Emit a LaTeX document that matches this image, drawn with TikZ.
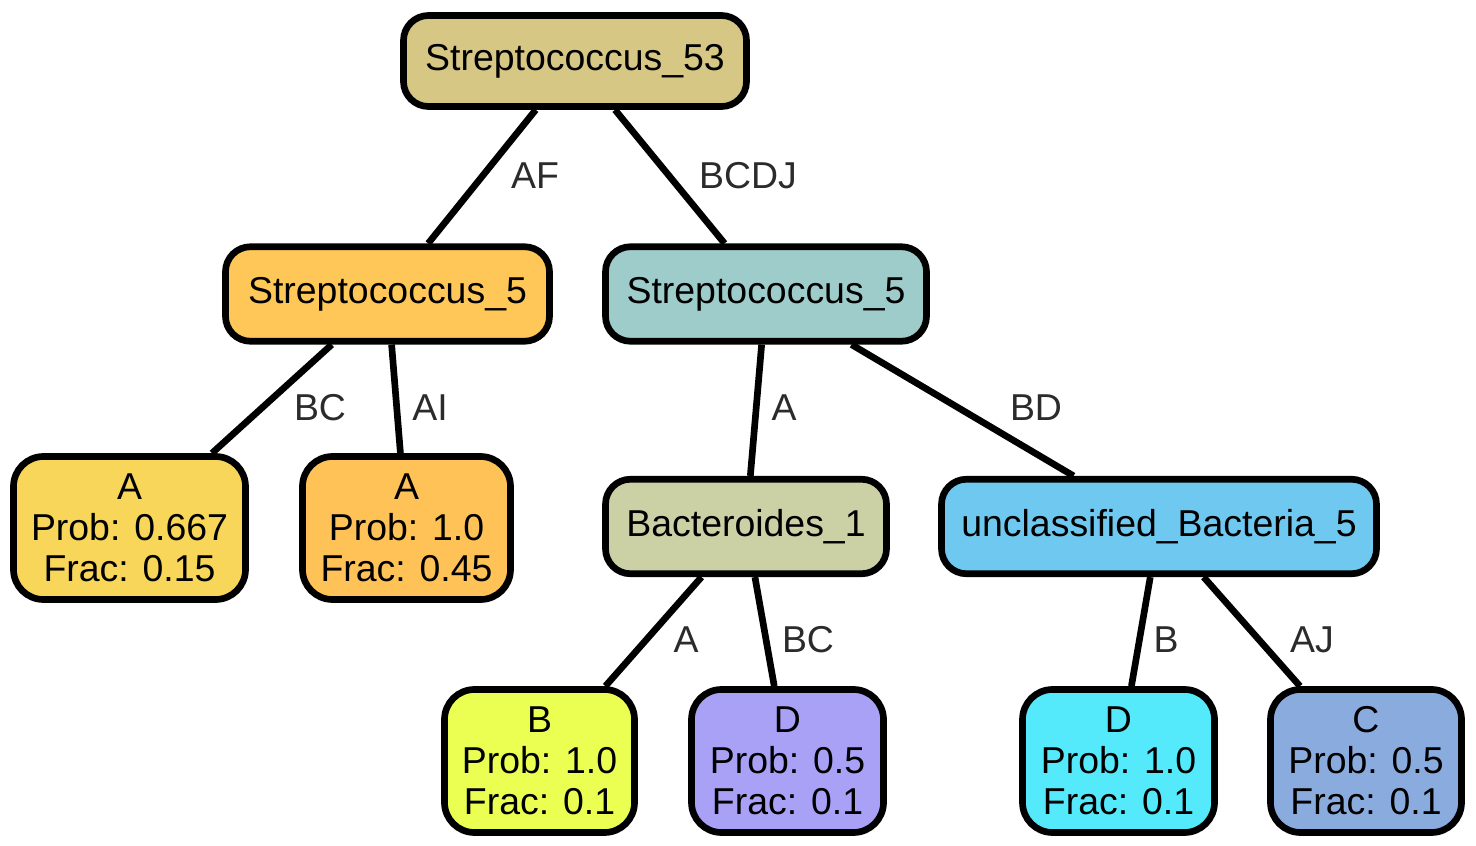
\documentclass[tikz,border=0pt]{standalone}
\usepackage{fontspec}
\setmainfont{Liberation Sans}
\usepackage{tikz}

\definecolor{cRoot}{HTML}{D7C784}
\definecolor{cStrepL}{HTML}{FFC757}
\definecolor{cStrepR}{HTML}{9DCCCB}
\definecolor{cAone}{HTML}{F8D65A}
\definecolor{cAtwo}{HTML}{FFC257}
\definecolor{cBact}{HTML}{CBD0A5}
\definecolor{cUncl}{HTML}{6FC8EF}
\definecolor{cB}{HTML}{EBFF52}
\definecolor{cDhalf}{HTML}{A9A1F5}
\definecolor{cDone}{HTML}{54EAFC}
\definecolor{cC}{HTML}{8AABDE}
\definecolor{lblgray}{HTML}{2B2B2B}

\tikzset{
  taxon/.style={draw, line width=3.8pt, rounded corners=0.5cm, inner sep=0pt,
    align=center, font=\fontsize{21.3}{23.3}\selectfont},
  leaf/.style={taxon, minimum height=2.86cm, rounded corners=0.6cm},
  inner/.style={taxon, minimum height=1.89cm},
  elabel/.style={text=lblgray, inner sep=0pt, font=\fontsize{21.3}{23.3}\selectfont},
  branch/.style={line width=3.8pt}
}

\begin{document}
\begin{tikzpicture}
		\useasboundingbox (0,0) rectangle (29.52,-16.92);
		% tree nodes
		\node[inner, fill=cRoot, minimum width=6.86cm, minimum height=1.82cm] (s53) at (11.5,-1.22) {Streptococcus\_53};
		\node[inner, fill=cStrepL, minimum width=6.48cm] (s5L) at (7.75,-5.88) {Streptococcus\_5};
		\node[inner, fill=cStrepR, minimum width=6.42cm] (s5R) at (15.32,-5.88) {Streptococcus\_5};
		\node[leaf, fill=cAone, minimum width=4.64cm] (leafA1) at (2.59,-10.56) {A\\Prob: 0.667\\Frac: 0.15};
		\node[leaf, fill=cAtwo, minimum width=4.16cm] (leafA2) at (8.13,-10.56) {A\\Prob: 1.0\\Frac: 0.45};
		\node[inner, fill=cBact, minimum width=5.62cm] (bact) at (14.92,-10.53) {Bacteroides\_1};
		\node[inner, fill=cUncl, minimum width=8.7cm] (uncl) at (23.18,-10.53) {unclassified\_Bacteria\_5};
		\node[leaf, fill=cB, minimum width=3.8cm] (leafB) at (10.79,-15.22) {B\\Prob: 1.0\\Frac: 0.1};
		\node[leaf, fill=cDhalf, minimum width=3.84cm] (leafD5) at (15.75,-15.22) {D\\Prob: 0.5\\Frac: 0.1};
		\node[leaf, fill=cDone, minimum width=3.84cm] (leafD1) at (22.37,-15.22) {D\\Prob: 1.0\\Frac: 0.1};
		\node[leaf, fill=cC, minimum width=3.82cm] (leafC) at (27.32,-15.22) {C\\Prob: 0.5\\Frac: 0.1};
		
		% branches
		\draw[branch] (s53) -- (s5L);
		\draw[branch] (s53) -- (s5R);
		\draw[branch] (s5L) -- (leafA1);
		\draw[branch] (s5L) -- (leafA2);
		\draw[branch] (s5R) -- (bact);
		\draw[branch] (s5R) -- (uncl);
		\draw[branch] (bact) -- (leafB);
		\draw[branch] (bact) -- (leafD5);
		\draw[branch] (uncl) -- (leafD1);
		\draw[branch] (uncl) -- (leafC);
		
		% branch labels
		\node[elabel] (lAF) at (10.7,-3.52) {AF};
		\node[elabel] (lBCDJ) at (14.96,-3.52) {BCDJ};
		\node[elabel] (lBC) at (6.4,-8.16) {BC};
		\node[elabel] (lAI) at (8.6,-8.16) {AI};
		\node[elabel] (lA) at (15.68,-8.16) {A};
		\node[elabel] (lBD) at (20.72,-8.16) {BD};
		\node[elabel] (lA2) at (13.72,-12.8) {A};
		\node[elabel] (lBC2) at (16.16,-12.8) {BC};
		\node[elabel] (lB) at (23.32,-12.8) {B};
		\node[elabel] (lAJ) at (26.24,-12.8) {AJ};
\end{tikzpicture}
\end{document}
